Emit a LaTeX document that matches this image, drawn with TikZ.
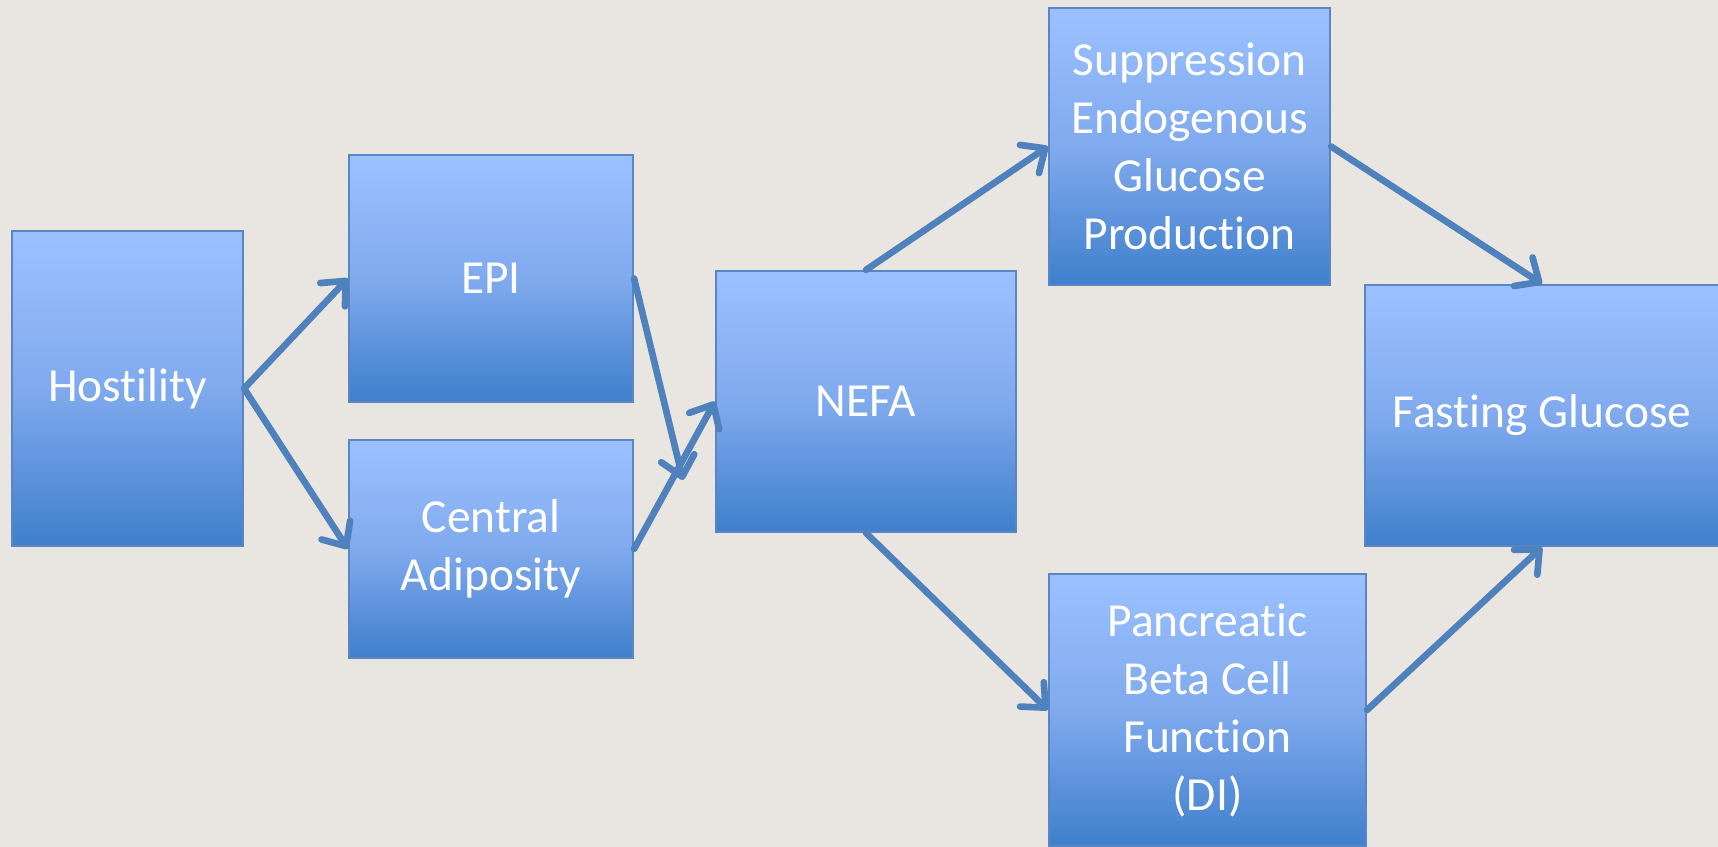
\documentclass[tikz,border=0pt]{standalone}
\usepackage{fontspec}
\setmainfont{Carlito}[Ligatures=NoCommon, RawFeature={-liga;-calt;-dlig}]
\usepackage{tikz}
\usetikzlibrary{arrows.meta, positioning}
\usepackage{xcolor}
\definecolor{pagebg}{HTML}{E9E6E2}
\definecolor{boxtop}{HTML}{9BC1FF}
\definecolor{boxmid}{HTML}{80AAEE}
\definecolor{boxbot}{HTML}{3F7FCC}
\definecolor{boxline}{HTML}{5A87C4}
\definecolor{linkblue}{HTML}{4F81BD}
\tikzset{%
	stage box/.style={
		rectangle,
		draw=boxline,
		line width=0.6pt,
		top color=boxtop,
		bottom color=boxbot,
		middle color=boxmid,
		text=white,
		align=center,
		inner sep=0pt,
		font=\fontsize{13.5}{16.5}\selectfont
	},
	link/.style={
		draw=linkblue,
		line width=1.9pt,
		line cap=round,
		-{Straight Barb[length=1.9mm,width=3.4mm,round]}
	},
}
\begin{document}
\begin{tikzpicture}
			% Background and picture size
			\fill[pagebg] (0,0) rectangle (17.18,8.47);
			\useasboundingbox (0,0) rectangle (17.18,8.47);
			\clip (0,0) rectangle (17.18,8.47);
			
			% Draw the boxes
			\node[stage box, minimum width=2.31cm, minimum height=3.15cm] (hostility) at (1.275,4.585) {Hostility};
			\node[stage box, minimum width=2.84cm, minimum height=2.47cm] (epi) at (4.91,5.685) {EPI};
			\node[stage box, minimum width=2.84cm, minimum height=2.18cm] (central) at (4.91,2.98) {Central\\Adiposity};
			\node[stage box, minimum width=3.00cm, minimum height=2.61cm] (nefa) at (8.66,4.455) {NEFA};
			\node[stage box, minimum width=2.81cm, minimum height=2.77cm] (suppression) at (11.895,7.005) {Suppression\\Endogenous\\Glucose\\Production};
			\node[stage box, minimum width=3.17cm, minimum height=2.72cm] (pancreatic) at (12.075,1.37) {Pancreatic\\Beta Cell\\Function\\(DI)};
			\node[stage box, minimum width=3.54cm, minimum height=2.61cm] (fasting) at (15.42,4.315) {Fasting Glucose};
			
			% Free end of the EPI arrow
			\coordinate (epi end) at (6.83,3.67);
			
			% Draw the arrows
			\draw[link] (hostility.east) -- (epi.west);
			\draw[link] (hostility.east) -- (central.west);
			\draw[link] (epi.east) -- (epi end);
			\draw[link] (central.east) -- (nefa.west);
			\draw[link] (nefa.north) -- (suppression.west);
			\draw[link] (nefa.south) -- (pancreatic.west);
			\draw[link] (suppression.east) -- (fasting.north);
			\draw[link] (pancreatic.east) -- (fasting.south);
			
		\end{tikzpicture}
\end{document}
